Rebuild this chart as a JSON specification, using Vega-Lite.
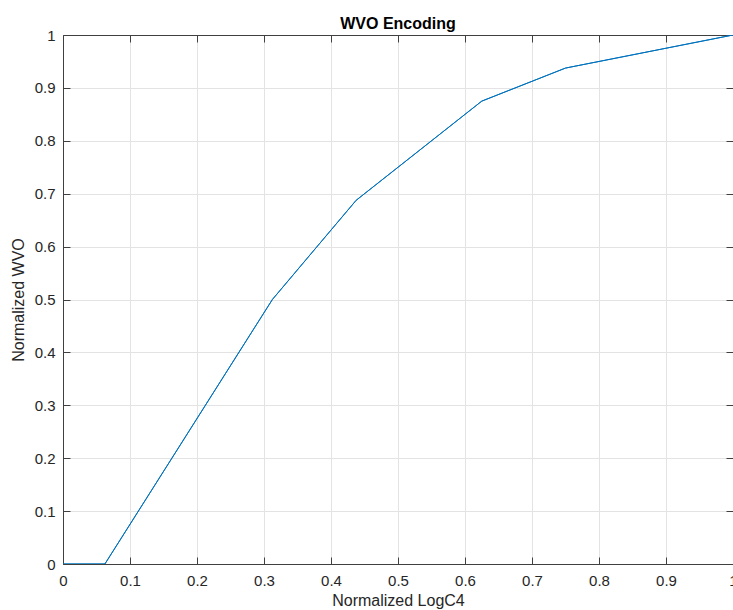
{
  "$schema": "https://vega.github.io/schema/vega-lite/v6.json",
  "width": 670,
  "height": 529,
  "autosize": {"type": "none"},
  "padding": {"left": 63, "top": 35, "right": 0, "bottom": 46},
  "background": "white",
  "title": {
    "text": "WVO Encoding",
    "font": "Liberation Sans",
    "fontSize": 16,
    "fontWeight": "bold",
    "color": "#000000",
    "anchor": "middle",
    "offset": -4
  },
  "config": {
    "view": {"stroke": null},
    "axis": {
      "labelFont": "Liberation Sans",
      "titleFont": "Liberation Sans",
      "labelFontSize": 15,
      "titleFontSize": 16,
      "titleFontWeight": "normal",
      "labelColor": "#262626",
      "titleColor": "#262626",
      "domainColor": "#404040",
      "tickColor": "#404040",
      "gridColor": "#e3e3e3",
      "gridOpacity": 1,
      "labelFlush": false,
      "labelOverlap": false,
      "tickSize": -7,
      "domainWidth": 1,
      "tickWidth": 1,
      "format": "~g"
    }
  },
  "data": {
    "values": [
      {"x": 0, "y": 0},
      {"x": 0.0625, "y": 0},
      {"x": 0.3125, "y": 0.5},
      {"x": 0.4375, "y": 0.6875},
      {"x": 0.625, "y": 0.875},
      {"x": 0.75, "y": 0.9375},
      {"x": 1, "y": 1}
    ]
  },
  "layer": [
    {
      "mark": {"type": "line", "color": "#0072BD", "strokeWidth": 1, "clip": true},
      "encoding": {
        "x": {
          "field": "x", "type": "quantitative",
          "scale": {"domain": [0, 1], "nice": false, "zero": false},
          "axis": {
            "orient": "bottom",
            "title": "Normalized LogC4",
            "format": "~g",
            "values": [0, 0.1, 0.2, 0.3, 0.4, 0.5, 0.6, 0.7, 0.8, 0.9, 1],
            "labelPadding": 16,
            "titlePadding": 4,
            "grid": true
          }
        },
        "y": {
          "field": "y", "type": "quantitative",
          "scale": {"domain": [0, 1], "nice": false, "zero": false},
          "axis": {
            "orient": "left",
            "title": "Normalized WVO",
            "format": "~g",
            "values": [0, 0.1, 0.2, 0.3, 0.4, 0.5, 0.6, 0.7, 0.8, 0.9, 1],
            "labelPadding": 15,
            "titlePadding": 8,
            "grid": true
          }
        }
      }
    },
    {
      "mark": {"type": "line", "color": "#0072BD", "strokeWidth": 1, "clip": true},
      "encoding": {
        "x": {
          "field": "x", "type": "quantitative",
          "scale": {"domain": [0, 1], "nice": false, "zero": false},
          "axis": {
            "orient": "top",
            "title": null,
            "labels": false,
            "grid": false,
            "values": [0, 0.1, 0.2, 0.3, 0.4, 0.5, 0.6, 0.7, 0.8, 0.9, 1]
          }
        },
        "y": {
          "field": "y", "type": "quantitative",
          "scale": {"domain": [0, 1], "nice": false, "zero": false},
          "axis": {
            "orient": "right",
            "title": null,
            "labels": false,
            "grid": false,
            "values": [0, 0.1, 0.2, 0.3, 0.4, 0.5, 0.6, 0.7, 0.8, 0.9, 1]
          }
        }
      }
    }
  ],
  "resolve": {"axis": {"x": "independent", "y": "independent"}}
}
